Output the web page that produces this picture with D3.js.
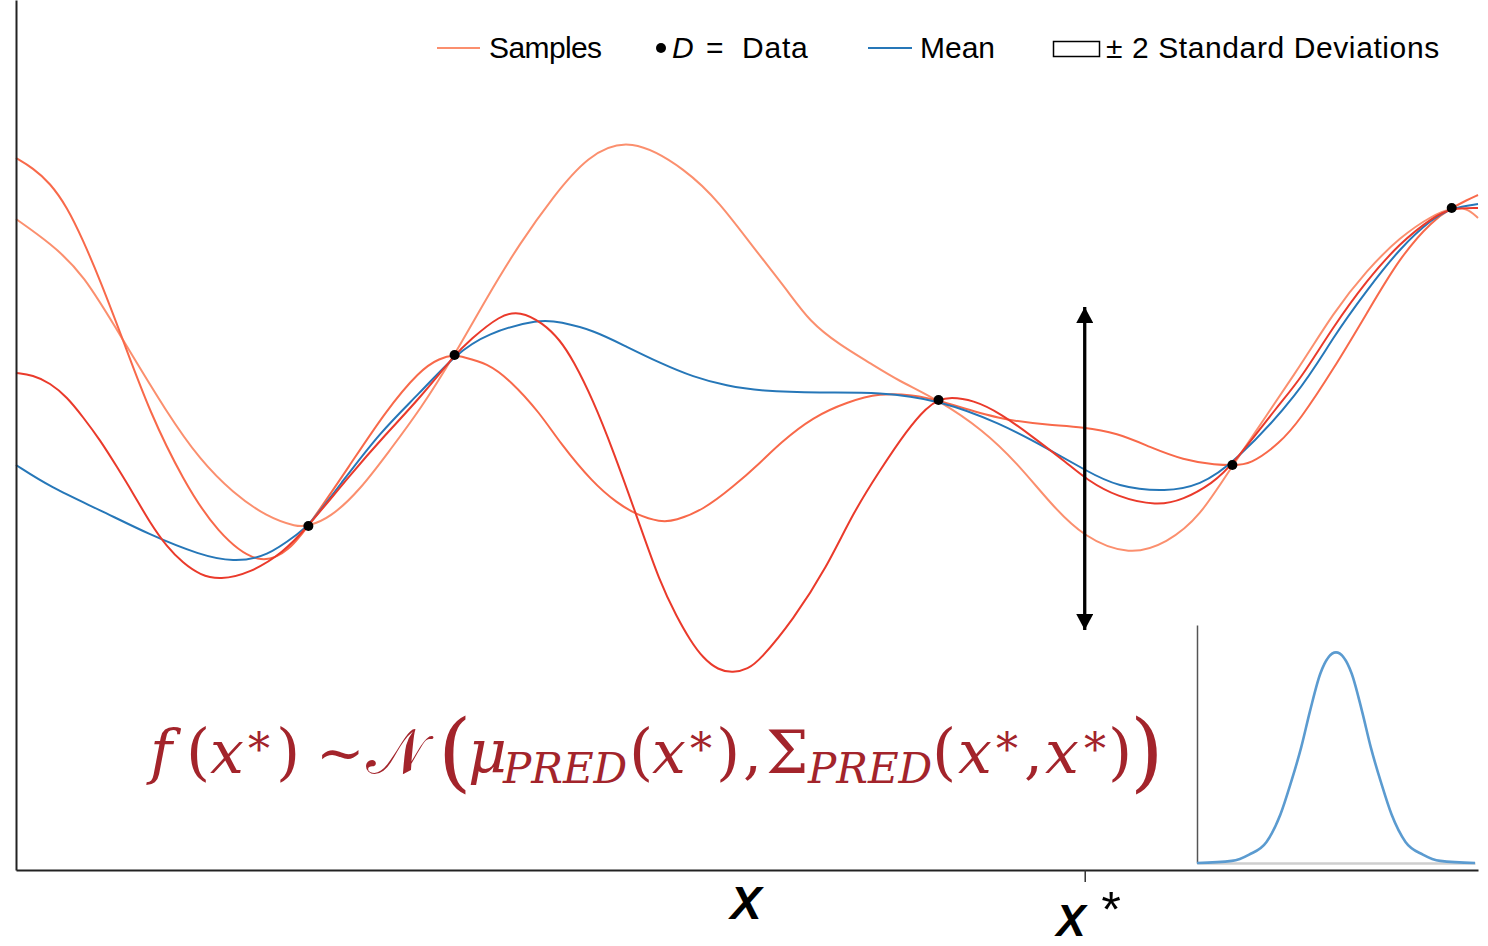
<!DOCTYPE html>
<html>
<head>
<meta charset="utf-8">
<script src="https://cdn.jsdelivr.net/npm/d3@7"></script>
<style>
  body { margin: 0; background: #fff; }
  svg { display: block; }
</style>
</head>
<body>
<div id="chart"></div>
<script>
// observed training points D
const dataX = [2.00, 3.00, 6.31, 8.32, 9.82]
const dataY = [3.44, 5.15, 4.70, 4.05, 6.62]

// posterior mean as [x, y]
const meanLine = [
  [0, 4.05], [0.233, 3.83], [0.575, 3.60], [0.917, 3.35], [1.259, 3.15], [1.484, 3.08],
  [1.717, 3.13], [1.943, 3.38], [2.00, 3.44], [2.216, 3.85], [2.490, 4.38], [2.763, 4.77],
  [3.00, 5.15], [3.222, 5.37], [3.584, 5.51], [3.721, 5.48], [3.947, 5.40], [4.179, 5.23],
  [4.405, 5.07], [4.631, 4.93], [4.863, 4.84], [5.089, 4.79], [5.499, 4.77], [5.910, 4.78],
  [6.31, 4.70], [6.731, 4.47], [7.073, 4.20], [7.312, 4.00], [7.531, 3.83], [7.873, 3.78],
  [8.098, 3.85], [8.32, 4.05], [8.782, 4.77], [9.008, 5.33], [9.241, 5.80], [9.466, 6.22],
  [9.692, 6.52], [9.82, 6.62], [10.0, 6.66]
]

// three posterior samples
const sampleA = [
  [0, 6.51], [0.233, 6.27], [0.458, 5.97], [0.732, 5.30], [1.033, 4.57], [1.259, 4.10],
  [1.484, 3.77], [1.717, 3.53], [1.922, 3.43], [2.00, 3.44], [2.148, 3.52], [2.353, 3.80],
  [2.558, 4.20], [2.763, 4.60], [3.00, 5.15], [3.222, 5.73], [3.447, 6.27], [3.673, 6.73],
  [3.906, 7.14], [4.200, 7.34], [4.590, 7.00], [4.815, 6.67], [5.041, 6.23], [5.274, 5.80],
  [5.430, 5.48], [5.636, 5.25], [5.841, 5.07], [6.026, 4.90], [6.31, 4.70], [6.614, 4.40],
  [6.847, 4.07], [7.073, 3.67], [7.298, 3.33], [7.620, 3.14], [7.873, 3.27], [8.098, 3.53],
  [8.32, 4.05], [8.782, 5.03], [9.008, 5.57], [9.241, 6.00], [9.466, 6.33], [9.692, 6.55],
  [9.82, 6.62], [9.925, 6.62], [10.0, 6.52]
]
const sampleB = [
  [0, 7.12], [0.116, 7.02], [0.233, 6.87], [0.349, 6.63], [0.458, 6.30], [0.575, 5.90],
  [0.732, 5.30], [0.917, 4.57], [1.142, 3.90], [1.375, 3.37], [1.669, 3.03], [1.874, 3.20],
  [2.00, 3.44], [2.285, 4.05], [2.524, 4.58], [2.763, 5.00], [2.900, 5.12], [3.00, 5.15],
  [3.057, 5.13], [3.222, 5.07], [3.379, 4.90], [3.584, 4.57], [3.721, 4.27], [3.947, 3.87],
  [4.111, 3.67], [4.248, 3.55], [4.405, 3.48], [4.508, 3.49], [4.699, 3.60], [4.904, 3.83],
  [5.089, 4.07], [5.226, 4.27], [5.451, 4.53], [5.684, 4.68], [5.910, 4.77], [6.135, 4.75],
  [6.31, 4.70], [6.731, 4.50], [7.073, 4.45], [7.298, 4.43], [7.531, 4.37], [7.756, 4.23],
  [7.982, 4.10], [8.215, 4.05], [8.32, 4.05], [8.440, 4.05], [8.646, 4.27], [8.782, 4.50],
  [9.008, 5.00], [9.241, 5.57], [9.466, 6.13], [9.692, 6.50], [9.82, 6.62], [9.925, 6.70],
  [10.0, 6.75]
]
const sampleC = [
  [0, 4.97], [0.116, 4.95], [0.233, 4.87], [0.349, 4.73], [0.458, 4.53], [0.575, 4.30],
  [0.691, 4.03], [0.800, 3.77], [0.917, 3.47], [1.033, 3.23], [1.142, 3.07], [1.259, 2.95],
  [1.395, 2.90], [1.601, 2.97], [1.826, 3.17], [2.00, 3.44], [2.285, 3.95], [2.524, 4.35],
  [2.763, 4.72], [3.00, 5.15], [3.105, 5.30], [3.311, 5.55], [3.447, 5.59], [3.605, 5.47],
  [3.721, 5.30], [3.810, 5.10], [3.947, 4.70], [4.083, 4.20], [4.248, 3.53], [4.405, 2.87],
  [4.521, 2.53], [4.610, 2.30], [4.699, 2.12], [4.802, 2.00], [4.904, 1.97], [5.007, 2.01],
  [5.089, 2.10], [5.315, 2.50], [5.547, 3.03], [5.725, 3.57], [5.910, 4.00], [6.094, 4.40],
  [6.231, 4.63], [6.31, 4.70], [6.389, 4.73], [6.546, 4.70], [6.731, 4.57], [6.956, 4.33],
  [7.189, 4.07], [7.326, 3.90], [7.531, 3.73], [7.804, 3.64], [7.982, 3.70], [8.187, 3.87],
  [8.32, 4.05], [8.646, 4.67], [8.782, 4.90], [9.008, 5.43], [9.241, 5.90], [9.466, 6.27],
  [9.692, 6.53], [9.82, 6.62], [10.0, 6.62]
]

// test location and the spread drawn there
const xStar = 7.31
const arrowSpan = [2.40, 5.63]

// predictive density at x* (inset)
const pdfX = [-4, -3, -2.5, -2, -1.6, -1.3, -1, -0.75, -0.45, 0, 0.45, 0.75, 1, 1.3, 1.6, 2, 2.5, 3, 4]
const pdfY = [0, 0.01, 0.04, 0.1, 0.23, 0.38, 0.55, 0.72, 0.9, 1, 0.9, 0.72, 0.55, 0.38, 0.23, 0.1, 0.04, 0.01, 0]

const legendLabels = ["Samples", "Data", "Mean", "± 2 Standard Deviations"]
const axisLabels = ["X", "X"]

const width = 1488, height = 946
const red_dark = "#a3242b"

const svg = d3.select("#chart").append("svg")
  .attr("width", width)
  .attr("height", height)

const x = d3.scaleLinear().domain([0, 10]).range([16, 1478])
const y = d3.scaleLinear().domain([0, 8.7]).range([870, 0])

const line = d3.line()
  .x(d => x(d[0]))
  .y(d => y(d[1]))
  .curve(d3.curveBasis)

// samples then mean
const series = [
  {pts: sampleA, color: "#fb8f6e"},
  {pts: sampleB, color: "#f8694a"},
  {pts: meanLine, color: "#2677b8"},
  {pts: sampleC, color: "#ea3a2b"}
]
series.forEach(s => {
  svg.append("path")
    .datum(s.pts)
    .attr("fill", "none")
    .attr("stroke", s.color)
    .attr("stroke-width", 2)
    .attr("d", line)
})

svg.selectAll(".obs")
  .data(dataX)
  .enter()
  .append("circle")
  .attr("class", "obs")
  .attr("cx", d => x(d))
  .attr("cy", (d, i) => y(dataY[i]))
  .attr("r", 5)
  .attr("fill", "#000")

// axes
const gx = svg.append("g")
  .attr("transform", "translate(0," + y(0) + ")")
  .call(d3.axisBottom(x)
    .tickValues([xStar])
    .tickFormat("")
    .tickSizeInner(12)
    .tickSizeOuter(0))
gx.select(".domain").attr("stroke", "#222").attr("stroke-width", 2)
gx.selectAll(".tick line").attr("stroke", "#333").attr("stroke-width", 1.5)

const gy = svg.append("g")
  .attr("transform", "translate(" + x(0) + ",0)")
  .call(d3.axisLeft(y).tickValues([]).tickSizeOuter(0))
gy.select(".domain").attr("stroke", "#222").attr("stroke-width", 2)

// double arrow at x*
const defs = svg.append("defs")
defs.append("marker")
  .attr("id", "head")
  .attr("viewBox", "0 0 10 10")
  .attr("preserveAspectRatio", "none")
  .attr("refX", 10)
  .attr("refY", 5)
  .attr("markerUnits", "userSpaceOnUse")
  .attr("markerWidth", 16)
  .attr("markerHeight", 17)
  .attr("orient", "auto-start-reverse")
  .append("path")
  .attr("d", "M0,0L10,5L0,10Z")
  .attr("fill", "#000")

svg.append("line")
  .attr("x1", x(xStar)).attr("x2", x(xStar))
  .attr("y1", y(arrowSpan[0])).attr("y2", y(arrowSpan[1]))
  .attr("stroke", "#000")
  .attr("stroke-width", 3.3)
  .attr("marker-start", "url(#head)")
  .attr("marker-end", "url(#head)")

// inset: predictive density
const ix = d3.scaleLinear().domain([-4, 4]).range([1197, 1475])
const iy = d3.scaleLinear().domain([0, 1.13]).range([863, 625])

const ib = svg.append("g")
  .attr("transform", "translate(0," + iy(0) + ")")
  .call(d3.axisBottom(ix).tickValues([]).tickSizeOuter(0))
ib.select(".domain").attr("stroke", "#cfcfcf").attr("stroke-width", 2.5)
const il = svg.append("g")
  .attr("transform", "translate(" + ix(-4) + ",0)")
  .call(d3.axisLeft(iy).tickValues([]).tickSizeOuter(0))
il.select(".domain").attr("stroke", "#555").attr("stroke-width", 1.5)

svg.append("path")
  .datum(pdfX.map((v, i) => [v, pdfY[i]]))
  .attr("fill", "none")
  .attr("stroke", "#5b9bd0")
  .attr("stroke-width", 2.6)
  .attr("d", d3.line()
    .x(d => ix(d[0]))
    .y(d => iy(d[1]))
    .curve(d3.curveMonotoneX))

// legend
const lg = svg.append("g")
  .attr("font-family", "'Liberation Sans', Arial, sans-serif")
  .attr("font-size", 30)
  .attr("fill", "#000")

lg.append("line").attr("x1", 437).attr("x2", 480).attr("y1", 48).attr("y2", 48)
  .attr("stroke", "#fb8f6e").attr("stroke-width", 2)
lg.append("text").attr("x", 489).attr("y", 58).attr("letter-spacing", -0.6).text(legendLabels[0])

lg.append("circle").attr("cx", 661).attr("cy", 48).attr("r", 5).attr("fill", "#000")
lg.append("text").attr("x", 672).attr("y", 58).attr("font-style", "italic").text("D")
lg.append("text").attr("x", 706).attr("y", 58).text("=")
lg.append("text").attr("x", 742).attr("y", 58).attr("letter-spacing", 0.8).text(legendLabels[1])

lg.append("line").attr("x1", 868).attr("x2", 912).attr("y1", 48).attr("y2", 48)
  .attr("stroke", "#2677b8").attr("stroke-width", 2)
lg.append("text").attr("x", 920).attr("y", 58).text(legendLabels[2])

lg.append("rect").attr("x", 1053.5).attr("y", 41.5).attr("width", 46).attr("height", 15)
  .attr("fill", "none").attr("stroke", "#000").attr("stroke-width", 1.5)
lg.append("text").attr("x", 1106).attr("y", 58).attr("letter-spacing", 0.6).text(legendLabels[3])

// axis labels
const lab = svg.append("g")
  .attr("font-family", "'Liberation Sans', Arial, sans-serif")
  .attr("font-style", "italic")
  .attr("fill", "#000")
lab.append("text").attr("x", 746).attr("y", 919).attr("text-anchor", "middle")
  .attr("font-weight", "bold").attr("font-size", 47).text(axisLabels[0])
lab.append("text").attr("x", 1071).attr("y", 936).attr("text-anchor", "middle")
  .attr("font-weight", "bold").attr("font-size", 44).text(axisLabels[1])
lab.append("text").attr("x", 1109).attr("y", 927).attr("text-anchor", "middle")
  .attr("font-size", 50).text("*")

// predictive distribution formula
const formula = [
  {s: "f", x: 150, size: 60, it: true},
  {s: "(", x: 186, size: 62},
  {s: "x", x: 210, size: 60, it: true},
  {s: "*", x: 248, size: 44, dy: -8},
  {s: ")", x: 276, size: 62},
  {s: "~", x: 316, size: 58},
  {s: "𝒩", x: 366, size: 62},
  {s: "(", x: 438, size: 86, dy: 8},
  {s: "μ", x: 468, size: 60, it: true},
  {s: "PRED", x: 503, size: 42, it: true, dy: 10},
  {s: "(", x: 629, size: 62},
  {s: "x", x: 652, size: 60, it: true},
  {s: "*", x: 690, size: 44, dy: -8},
  {s: ")", x: 716, size: 62},
  {s: ",", x: 743, size: 60},
  {s: "Σ", x: 766, size: 60},
  {s: "PRED", x: 808, size: 42, it: true, dy: 10},
  {s: "(", x: 932, size: 62},
  {s: "x", x: 958, size: 60, it: true},
  {s: "*", x: 996, size: 44, dy: -8},
  {s: ",", x: 1024, size: 60},
  {s: "x", x: 1045, size: 60, it: true},
  {s: "*", x: 1084, size: 44, dy: -8},
  {s: ")", x: 1108, size: 62},
  {s: ")", x: 1130, size: 86, dy: 8}
]
svg.append("g")
  .attr("font-family", "'DejaVu Serif', 'Liberation Serif', serif")
  .attr("fill", red_dark)
  .selectAll("text")
  .data(formula)
  .enter()
  .append("text")
  .attr("x", d => d.x)
  .attr("y", d => 773 + (d.dy || 0))
  .attr("font-size", d => d.size)
  .attr("font-style", d => d.it ? "italic" : "normal")
  .text(d => d.s)
</script>
</body>
</html>
